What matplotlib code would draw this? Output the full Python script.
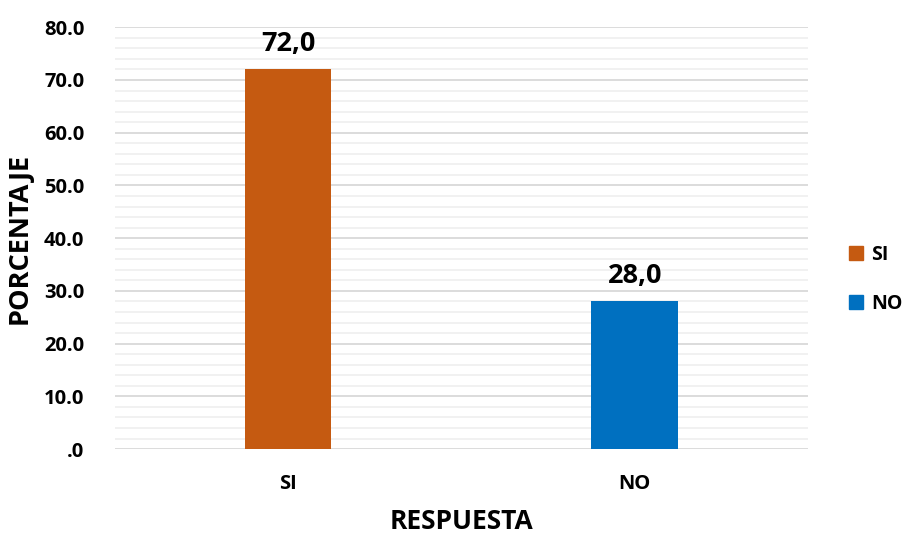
import matplotlib
matplotlib.use('Agg')
import matplotlib.pyplot as plt
from matplotlib.ticker import MultipleLocator, FuncFormatter
from matplotlib.patches import Patch

# --- Data ---
categories = ['SI', 'NO']
values = [72.0, 28.0]
colors = ['#C55A11', '#0070C0']

plt.rcParams['font.family'] = ['Open Sans', 'DejaVu Sans']
plt.rcParams['font.weight'] = 'bold'

fig = plt.figure(figsize=(9.04, 5.34), dpi=100)
ax = fig.add_axes([0.127, 0.159, 0.767, 0.790])

x = list(range(len(categories)))
bars = ax.bar(x, values, width=0.25, color=colors, zorder=3)

for xi, v in zip(x, values):
    ax.text(xi, v + 2.4, f'{v:.1f}'.replace('.', ','), ha='center', va='bottom',
            fontsize=19.5, fontweight='bold', color='black')

ax.set_xlim(-0.5, 1.5)
ax.set_ylim(0, 80)
ax.yaxis.set_major_locator(MultipleLocator(10))
ax.yaxis.set_minor_locator(MultipleLocator(2))
ax.yaxis.set_major_formatter(FuncFormatter(lambda v, p: '.0' if v == 0 else f'{v:.1f}'))
ax.grid(which='major', axis='y', color='#D9D9D9', linewidth=1.3, zorder=0)
ax.grid(which='minor', axis='y', color='#F0F0F0', linewidth=1.3, zorder=0)
ax.tick_params(axis='both', which='both', length=0, labelsize=14.5)
ax.tick_params(axis='y', pad=22)
ax.tick_params(axis='x', pad=18)
ax.set_xticks(x)
ax.set_xticklabels(categories, fontweight='bold')
for lbl in ax.get_yticklabels():
    lbl.set_fontweight('bold')
for s in ax.spines.values():
    s.set_visible(False)

ax.set_ylabel('PORCENTAJE', fontsize=19.5, fontweight='bold', labelpad=8)
ax.set_xlabel('RESPUESTA', fontsize=19, fontweight='bold', labelpad=10)

handles = [Patch(color=c, label=l) for c, l in zip(colors, categories)]
fig.legend(handles=handles, loc='center left', bbox_to_anchor=(0.939, 0.477),
           frameon=False, prop={'weight': 'bold', 'size': 14},
           borderpad=0, borderaxespad=0,
           handlelength=0.75, handleheight=0.75, handletextpad=0.4, labelspacing=1.5)

fig.savefig('out.png', dpi=100)
